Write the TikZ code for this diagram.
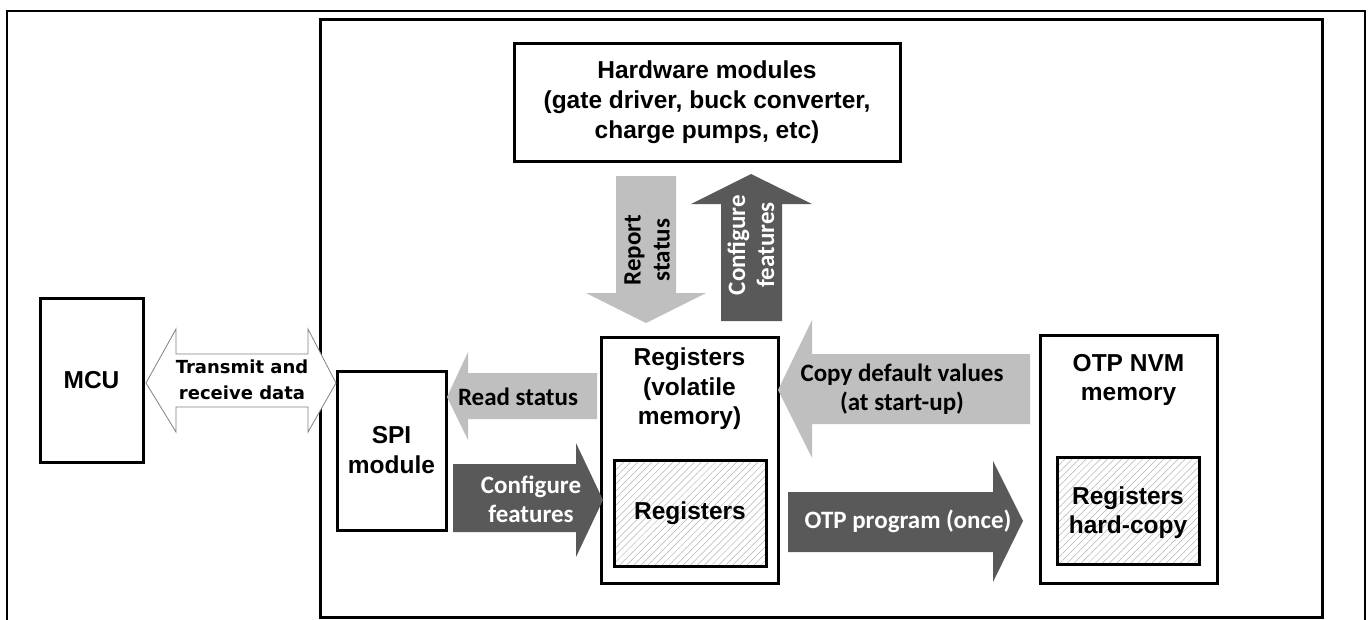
\documentclass[tikz,border=0pt]{standalone}
\usepackage{fontspec}
\setmainfont{Liberation Sans}
\newfontfamily\calfont{Carlito}
\newfontfamily\verdfont{DejaVu Sans}
\usetikzlibrary{patterns.meta}
\definecolor{lightarrow}{HTML}{BFBFBF}
\definecolor{darkarrow}{HTML}{595959}
\tikzset{
  box/.style={draw, line width=3pt, align=center, inner sep=0pt,
    font=\fontsize{24.5}{30}\selectfont\bfseries},
  hatchbox/.style={box, pattern={Lines[angle=45,distance=5pt,line width=0.5pt]}, pattern color=gray!60},
  boxtext/.style={align=center, inner sep=0pt, font=\fontsize{24.5}{29.5}\selectfont\bfseries},
  arrowtext/.style={align=center, inner sep=0pt, font=\calfont\fontsize{25}{29}\selectfont\bfseries},
  lightblock/.style={fill=lightarrow, draw=none},
  darkblock/.style={fill=darkarrow, draw=none},
  outlineblock/.style={fill=white, draw=gray, line width=0.8pt, line join=miter},
}
\begin{document}
\begin{tikzpicture}[x=1pt,y=-1pt]
\useasboundingbox (0,0) rectangle (1370,619);
% outer frame (open at bottom)
\draw[line width=2pt] (7,640) -- (7,11) -- (1365,11) -- (1365,640);
% inner big box
\node[draw, line width=3pt, minimum width=1002pt, minimum height=598pt, inner sep=0pt] (chip) at (821,318) {};

% boxes
\node[box, minimum width=103pt, minimum height=164pt] (mcu) at (91.5,380) {MCU};
\node[box, minimum width=109pt, minimum height=159pt] (spi) at (391.5,450.5) {SPI\\module};
\node[box, minimum width=386pt, minimum height=118pt] (hw) at (707,102)
  {Hardware modules\\(gate driver, buck converter,\\charge pumps, etc)};
\node[box, minimum width=177pt, minimum height=246pt] (reg) at (689.5,460) {};
\node[boxtext] (regt) at (689.5,389) {Registers\\(volatile\\memory)};
\node[hatchbox, minimum width=152pt, minimum height=106pt] (regin) at (690,513) {};
\node[boxtext] (regint) at (690,513) {Registers};
\node[box, minimum width=177pt, minimum height=248pt] (otp) at (1128.5,459) {};
\node[boxtext] (otpt) at (1128.5,380) {OTP NVM\\memory};
\node[hatchbox, minimum width=142pt, minimum height=107pt] (otpin) at (1128,510.5) {};
\node[boxtext] (otpint) at (1128,512.5) {Registers\\hard-copy};

% double arrow MCU <-> SPI
\draw[outlineblock] (146,383) -- (176,329) -- (176,354) -- (308,354) -- (308,329) -- (336,383)
  -- (308,432) -- (308,407) -- (176,407) -- (176,432) -- cycle;
\node[align=center, inner sep=0pt, font=\verdfont\fontsize{18}{26}\selectfont\bfseries] (txd) at (242,380)
  {Transmit and\\receive data};

% Read status (light, left)
\fill[lightblock] (447,397) -- (468,352) -- (468,373) -- (597,373) -- (597,419) -- (468,419) -- (468,440) -- cycle;
\node[arrowtext] (rs) at (518,397) {Read status};

% Configure features (dark, right)
\fill[darkblock] (453,464) -- (576,464) -- (576,443) -- (603,500) -- (576,557) -- (576,532) -- (453,532) -- cycle;
\node[arrowtext, text=white] (cf) at (531,499) {Configure\\features};

% Copy default values (light, left)
\fill[lightblock] (778,390) -- (812,320) -- (812,354) -- (1030,354) -- (1030,424) -- (812,424) -- (812,458) -- cycle;
\node[arrowtext] (cdv) at (902,389.5) {Copy default values\\(at start-up)};

% OTP program (dark, right)
\fill[darkblock] (788,492) -- (993,492) -- (993,461) -- (1023,521) -- (993,582) -- (993,552) -- (788,552) -- cycle;
\node[arrowtext, text=white] (otpp) at (908,521) {OTP program (once)};

% Report status (light, down)
\fill[lightblock] (616,176) -- (676,176) -- (676,293) -- (706,293) -- (646,323) -- (586,293) -- (616,293) -- cycle;
\node[arrowtext, rotate=90] (rep) at (647,250) {Report\\status};

% Configure features (dark, up)
\fill[darkblock] (721,321) -- (721,204) -- (691,204) -- (751,174) -- (812,204) -- (782,204) -- (782,321) -- cycle;
\node[arrowtext, text=white, rotate=90] (cfu) at (751,245) {Configure\\features};
\end{tikzpicture}
\end{document}
